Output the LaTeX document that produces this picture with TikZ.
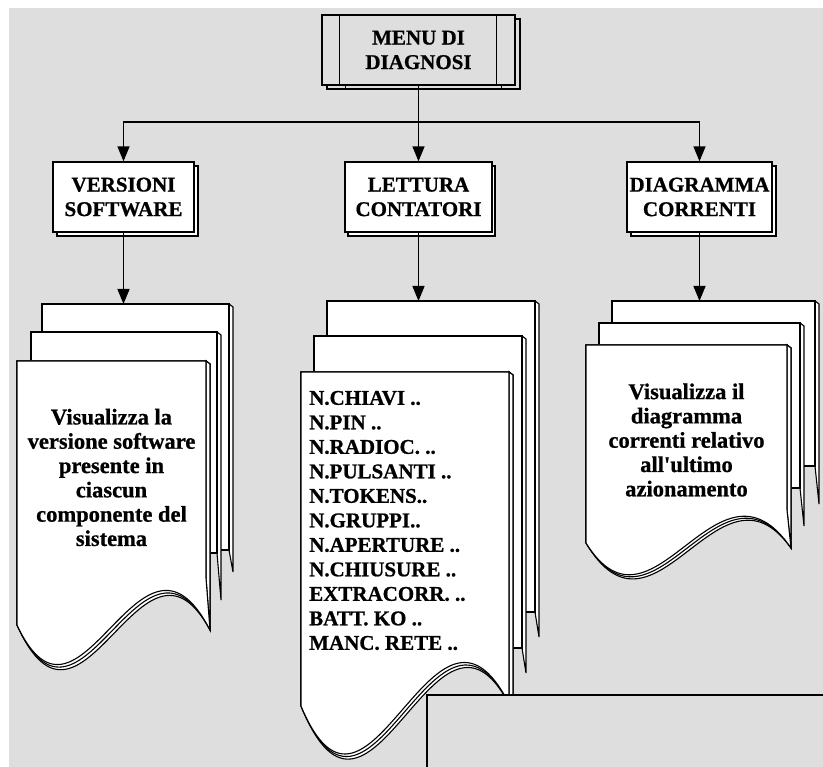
\documentclass[tikz,border=0pt]{standalone}
\usepackage{fontspec}
\setmainfont[BoldFeatures={FakeBold=0.8}]{Liberation Serif}
\usetikzlibrary{arrows.meta}
\definecolor{bg}{HTML}{DEDEDE}
\tikzset{
 lw/.style={line width=1.3pt},
 box/.style={draw, lw, fill=white, align=center, inner sep=0pt,
   font=\fontsize{21}{24.5}\selectfont\bfseries},
 conn/.style={line width=1.4pt, line join=miter},
 arr/.style={conn, -{Triangle[width=12pt,length=15pt]}},
 pg/.style={draw, fill=white, line width=1.1pt, line join=miter},
 txt/.style={font=\fontsize{21}{24.5}\selectfont\bfseries, align=center, inner sep=0pt},
 doctxt/.style={font=\fontsize{22.5}{24.3}\selectfont\bfseries, align=center, inner sep=0pt},
}
% thickness strip of a page: L T R yr ye
\newcommand{\pagestrip}[5]{%
 \draw[pg] (#3,#2) -- (#3+4,#2+3) -- (#3+4,#5) -- (#3,#4) -- cycle;}
\newcommand{\backpage}[5]{%
 \pagestrip{#1}{#2}{#3}{#4}{#5}%
 \draw[pg] (#1,#2) -- (#3,#2) -- (#3,#4) -- (#1,#4) -- cycle;}
% L T R yr ye yl c1 c2
\newcommand{\frontpage}[8]{%
 \pagestrip{#1}{#2}{#3}{#4}{#5}%
 \draw[pg] (#1,#2) -- (#3,#2) -- (#3,#4) -- (#3+4,#5) .. controls (#7) and (#8) .. (#1,#6) -- cycle;}
\begin{document}
\begin{tikzpicture}[x=1pt,y=-1pt]
\useasboundingbox (0,0) rectangle (823,767);
\fill[white] (0,0) rectangle (823,767);
\fill[bg] (9,8) rectangle (823,767);

% ---- top box
\draw[lw, fill=bg] (327,19) rectangle (520,89);
\node[box, fill=bg, minimum width=193pt, minimum height=70pt] (menu) at (418.5,50) {MENU DI\\DIAGNOSI};
\draw[lw] ([xshift=18pt]menu.north west) -- ([xshift=18pt]menu.south west);
\draw[lw] ([xshift=-19pt]menu.north east) -- ([xshift=-19pt]menu.south east);
\draw[lw] ([xshift=24pt]menu.south west) -- ++(0,4);
\draw[lw] ([xshift=-14pt]menu.south east) -- ++(0,4);

% ---- second level boxes
\draw[lw, fill=white] (57,166) rectangle (198,236);
\node[box, minimum width=141pt, minimum height=70pt] (vers) at (123.5,197) {VERSIONI\\SOFTWARE};
\draw[lw, fill=white] (348,166) rectangle (495,236);
\node[box, minimum width=147pt, minimum height=70pt] (lett) at (418.5,197) {LETTURA\\CONTATORI};
\draw[lw, fill=white] (631,166) rectangle (776,236);
\node[box, minimum width=145pt, minimum height=70pt] (diag) at (699.5,197) {DIAGRAMMA\\CORRENTI};

\coordinate (j) at (418.5,122);
\draw[conn] (menu.south) -- (j);
\draw[arr] (j) -| (vers.north);
\draw[arr] (j) -- (lett.north);
\draw[arr] (j) -| (diag.north);

% ---- left document stack
\backpage{42}{304}{229}{550}{572}
\backpage{31}{332}{217}{553}{600}
\frontpage{17}{361}{206}{578}{630}{625}{142,505}{82,770}
\frontpage{17}{361}{206}{578}{630}{625}{141,500}{81,765}
\frontpage{17}{361}{206}{578}{630}{625}{140,495}{80,760}
\node[doctxt] (vtext) at (111.5,477.5)
 {Visualizza la\\versione software\\presente in\\ciascun\\componente del\\sistema};

% ---- middle document stack
\backpage{327}{301}{535}{612}{637}
\backpage{314}{336}{522}{648}{673}
\frontpage{301}{372}{509}{700}{712}{706}{438,554}{372,881}
\frontpage{301}{372}{509}{700}{712}{706}{437,549}{371,876}
\frontpage{301}{372}{509}{700}{712}{706}{436,544}{370,871}
\node[txt, align=left, anchor=west] (list) at (309,520.5)
 {N.CHIAVI ..\\N.PIN ..\\N.RADIOC. ..\\N.PULSANTI ..\\N.TOKENS..\\N.GRUPPI..\\N.APERTURE ..\\N.CHIUSURE ..\\EXTRACORR. ..\\BATT. KO ..\\MANC. RETE ..};

% ---- right document stack
\backpage{612}{301}{815}{466}{504}
\backpage{599}{323}{800}{488}{526}
\frontpage{586}{345}{787}{510}{548}{543}{719,448}{655,659}
\frontpage{586}{345}{787}{510}{548}{543}{718,444}{654,655}
\frontpage{586}{345}{787}{510}{548}{543}{717,440}{653,651}
\node[doctxt] (dtext) at (686.5,440)
 {Visualizza il\\diagramma\\correnti relativo\\all\textquotesingle ultimo\\azionamento};

% ---- arrows to documents
\coordinate (dl) at (123.5,304);
\coordinate (dm) at (418.5,301);
\coordinate (dr) at (699.5,301);
\draw[arr] (vers.south) -- (dl);
\draw[arr] (lett.south) -- (dm);
\draw[arr] (diag.south) -- (dr);

% ---- bottom grey box
\draw[lw, fill=bg] (427,695) rectangle (830,775);
\end{tikzpicture}
\end{document}
